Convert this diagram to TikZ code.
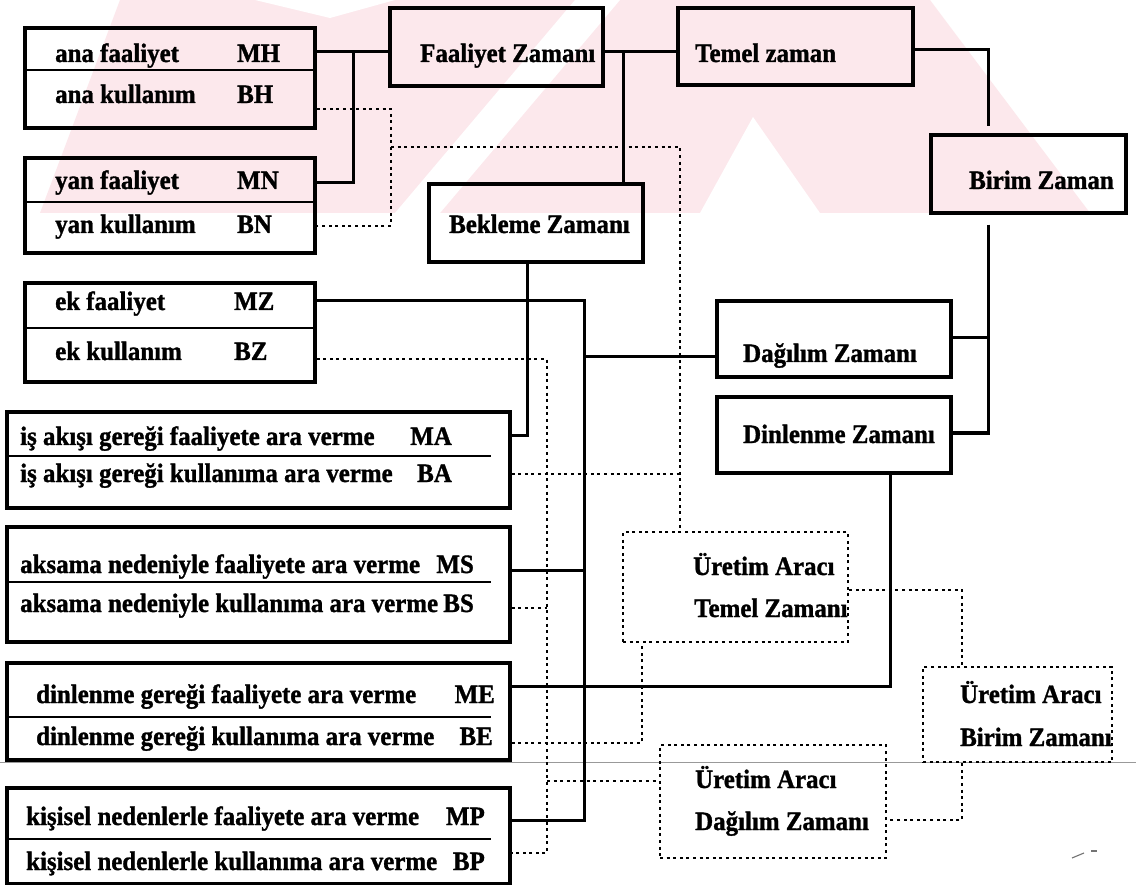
\documentclass[tikz,border=0pt]{standalone}
\usepackage{fontspec}
\setmainfont{Liberation Serif}
\newfontfamily\labfont{Liberation Serif}[UprightFont=* Bold, FakeStretch=0.94, FakeBold=1.2]
\usetikzlibrary{calc}
\definecolor{wmpink}{RGB}{252,232,236}
\newcommand\mkbox[6]{%
  \node[#6, minimum width={(#4-#2)*1pt}, minimum height={(#5-#3)*1pt}]
    (#1) at ({(#2+#4)/2},{(#3+#5)/2}) {};}
\begin{document}
\begin{tikzpicture}[x=1pt,y=-1pt,
  box/.style={draw, line width=3.2pt, rectangle, inner sep=0pt},
  dbox/.style={draw, line width=2.4pt, dash pattern=on 3pt off 3.6pt, rectangle, inner sep=0pt},
  txt/.style={inner sep=0pt, font=\fontsize{26.5}{30}\labfont},
  lbl/.style={txt, anchor=base west},
  code/.style={txt, anchor=base east},
  wire/.style={line width=3pt},
  dwire/.style={line width=2.4pt, dash pattern=on 3pt off 3.6pt},
  rule/.style={line width=2.8pt}]
\useasboundingbox (0,0) rectangle (1136,885);
\fill[white] (0,0) rectangle (1136,885);

% faint background emblem in the upper band
\begin{scope}
  \clip (0,0) rectangle (1136,213);
  \fill[wmpink] (40,213) -- (120,0) -- (930,0) -- (1090,213) -- cycle;
  \fill[white] (255,0) -- (330,18) -- (395,0) -- cycle;
  \fill[white] (395,213) -- (440,213) -- (620,0) -- (575,0) -- cycle;
  \fill[white] (700,213) -- (753,117) -- (820,213) -- cycle;
\end{scope}

% scan line across the page and a stray mark
\draw[black!40, line width=0.9pt] (0,762) -- (1136,762);
\draw[black!55, line width=1.1pt] (1072,858) -- (1084,853);
\draw[black!55, line width=1.1pt] (1091,851) -- (1097,851);

% ---- left column: activity / usage boxes
\mkbox{ana}{25}{28}{315}{128}{box}
\mkbox{yan}{25}{158}{315}{253}{box}
\mkbox{ek}{25}{283}{315}{382}{box}
\mkbox{isak}{7}{412}{510}{508}{box}
\mkbox{aks}{7}{527}{510}{642}{box}
\mkbox{din}{7}{663}{510}{760}{box}
\mkbox{kis}{7}{788}{510}{884}{box}

\draw[rule] (25,70) -- (315,70);
\draw[rule] (25,202) -- (315,202);
\draw[rule] (25,328) -- (315,328);
\draw[rule] (7,456) -- (491,456);
\draw[rule] (7,582) -- (491,582);
\draw[rule] (7,717) -- (491,717);
\draw[rule] (7,839) -- (491,839);

\node[lbl] (tana1) at (55,62) {ana faaliyet};
\node[lbl] (cMH) at (237,62) {MH};
\node[lbl] (tana2) at (55,103) {ana kullanım};
\node[lbl] (cBH) at (237,103) {BH};
\node[lbl] (tyan1) at (55,189) {yan faaliyet};
\node[lbl] (cMN) at (237,189) {MN};
\node[lbl] (tyan2) at (55,233) {yan kullanım};
\node[lbl] (cBN) at (237,233) {BN};
\node[lbl] (tek1) at (55,310) {ek faaliyet};
\node[lbl] (cMZ) at (234,310) {MZ};
\node[lbl] (tek2) at (55,360) {ek kullanım};
\node[lbl] (cBZ) at (234,360) {BZ};

\node[lbl] (tis1) at (20,445) {iş akışı gereği faaliyete ara verme};
\node[code] (cMA) at (452,445) {MA};
\node[lbl] (tis2) at (20,482) {iş akışı gereği kullanıma ara verme};
\node[code] (cBA) at (452,482) {BA};
\node[lbl] (taks1) at (20,573) {aksama nedeniyle faaliyete ara verme};
\node[code] (cMS) at (474,573) {MS};
\node[lbl] (taks2) at (20,612) {aksama nedeniyle kullanıma ara verme};
\node[code] (cBS) at (474,612) {BS};
\node[lbl] (tdin1) at (36,703) {dinlenme gereği faaliyete ara verme};
\node[code] (cME) at (495,703) {ME};
\node[lbl] (tdin2) at (36,745) {dinlenme gereği kullanıma ara verme};
\node[code] (cBE) at (493,745) {BE};
\node[lbl] (tkis1) at (26,825) {kişisel nedenlerle faaliyete ara verme};
\node[code] (cMP) at (485,825) {MP};
\node[lbl] (tkis2) at (26,870) {kişisel nedenlerle kullanıma ara verme};
\node[code] (cBP) at (485,870) {BP};

% ---- time boxes
\mkbox{faal}{390}{8}{603}{86}{box}
\mkbox{temel}{678}{8}{913}{85}{box}
\mkbox{birim}{931}{135}{1126}{213}{box}
\mkbox{bek}{429}{184}{643}{262}{box}
\mkbox{dag}{717}{301}{951}{377}{box}
\mkbox{dinZ}{717}{397}{951}{473}{box}

\node[lbl] (tfaal) at (420,62) {Faaliyet Zamanı};
\node[lbl] (ttemel) at (695,62) {Temel zaman};
\node[code] (tbirim) at (1114,189) {Birim Zaman};
\node[lbl] (tbek) at (449,233) {Bekleme Zamanı};
\node[lbl] (tdag) at (743,362) {Dağılım Zamanı};
\node[lbl] (tdinZ) at (743,443) {Dinlenme Zamanı};

% ---- production means boxes
\mkbox{uT}{623}{532}{848}{642}{dbox}
\mkbox{uB}{923}{667}{1112}{762}{dbox}
\mkbox{uD}{660}{745}{886}{858}{dbox}

\node[lbl] (tuT1) at (693,575) {Üretim Aracı};
\node[lbl] (tuT2) at (694,617) {Temel Zamanı};
\node[lbl] (tuB1) at (960,703) {Üretim Aracı};
\node[lbl] (tuB2) at (960,746) {Birim Zamanı};
\node[lbl] (tuD1) at (695,788) {Üretim Aracı};
\node[lbl] (tuD2) at (695,830) {Dağılım Zamanı};

% ---- junction points of the solid connectors
\coordinate (jA) at (353,52);
\coordinate (jA2) at (353,183);
\coordinate (jB) at (623,52);
\coordinate (jC) at (988,50);
\coordinate (jD) at (988,338);
\coordinate (jE) at (988,433);
\coordinate (jF) at (527,435);
\coordinate (jG) at (584,301);
\coordinate (jH) at (584,820);
\coordinate (jI) at (584,570);
\coordinate (jJ) at (584,357);
\coordinate (jK) at (890,686);

\draw[wire] (ana.east |- jA) -- (faal.west |- jA);
\draw[wire] (jA) -- (jA2) -- (yan.east |- jA2);
\draw[wire] (faal.east |- jB) -- (temel.west |- jB);
\draw[wire] (jB) -- (bek.north -| jB);
\draw[wire, shorten >=7pt] (temel.east |- jC) -- (jC) -- (birim.north -| jC);
\draw[wire, shorten <=10pt] (birim.south -| jD) -- (jE) -- (dinZ.east |- jE);
\draw[wire] (jD) -- (dag.east |- jD);
\draw[wire] (bek.south -| jF) -- (jF) -- (isak.east |- jF);
\draw[wire] (ek.east |- jG) -- (jG) -- (jH) -- (kis.east |- jH);
\draw[wire] (jI) -- (aks.east |- jI);
\draw[wire] (jJ) -- (dag.west |- jJ);
\draw[wire] (dinZ.south -| jK) -- (jK) -- (din.east |- jK);

% ---- junction points of the dotted connectors
\coordinate (dA) at (391,109);
\coordinate (dB) at (391,226);
\coordinate (dC) at (391,147);
\coordinate (dD) at (680,147);
\coordinate (dE) at (680,474);
\coordinate (dF) at (547,359);
\coordinate (dG) at (547,853);
\coordinate (dH) at (547,608);
\coordinate (dI) at (547,781);
\coordinate (dJ) at (642,743);
\coordinate (dK) at (962,590);
\coordinate (dL) at (962,820);

\draw[dwire] (ana.east |- dA) -- (dA) -- (dB) -- (yan.east |- dB);
\draw[dwire] (dC) -- (dD) -- (uT.north -| dD);
\draw[dwire] (isak.east |- dE) -- (dE);
\draw[dwire] (ek.east |- dF) -- (dF) -- (dG) -- (kis.east |- dG);
\draw[dwire] (aks.east |- dH) -- (dH);
\draw[dwire] (dI) -- (uD.west |- dI);
\draw[dwire] (din.east |- dJ) -- (dJ) -- (uT.south -| dJ);
\draw[dwire] (uT.east |- dK) -- (dK) -- (uB.north -| dK);
\draw[dwire] (uB.south -| dL) -- (dL) -- (uD.east |- dL);
\end{tikzpicture}
\end{document}
